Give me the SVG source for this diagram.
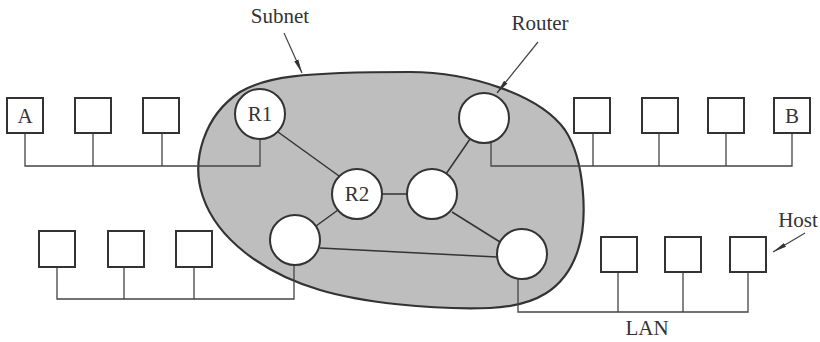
<svg xmlns="http://www.w3.org/2000/svg" width="820" height="342" viewBox="0 0 820 342">
<defs>
<marker id="ah" viewBox="0 0 14 6" refX="14" refY="3" markerWidth="14" markerHeight="6" markerUnits="userSpaceOnUse" orient="auto">
<path d="M0,0.8 L14,3 L0,5.2 Z" fill="#333"/>
</marker>
<style>
.t{font-family:"Liberation Serif","Times New Roman",serif;font-size:21px;fill:#333}
.host{fill:#fff;stroke:#333;stroke-width:2}
.rt{fill:#fff;stroke:#333;stroke-width:2}
.ln{fill:none;stroke:#444;stroke-width:1.3}
.lk{fill:none;stroke:#333;stroke-width:1.5}
.call{fill:none;stroke:#444;stroke-width:1.2}
</style>
</defs>
<rect width="820" height="342" fill="#fff"/>
<g id="subnet">
<path d="M410,72 C470,72 540,95 565,130 C585,160 588,220 578,250 C565,290 535,306 490,308 C430,310 360,302 320,290 C262,273 217,238 203,197 C190,160 205,115 240,92 C265,77 300,72 410,72 Z" fill="#bebebe" stroke="#333" stroke-width="2.2"/>
</g>
<g id="connectors">
<path class="ln" d="M25,133 V166 H260 V139"/>
<path class="ln" d="M93,133 V166 M162,133 V166"/>
<path class="ln" d="M491,142 V166 H792 V133"/>
<path class="ln" d="M593,133 V166 M659,133 V166 M726,133 V166"/>
<path class="ln" d="M57,267 V299 H294 V265"/>
<path class="ln" d="M124,267 V299 M194,267 V299"/>
<path class="ln" d="M518,279 V312 H748 V272"/>
<path class="ln" d="M618,272 V312 M683,272 V312"/>
<line class="lk" x1="278" y1="132" x2="339" y2="176"/>
<line class="lk" x1="382" y1="194" x2="407" y2="194"/>
<line class="lk" x1="470" y1="139" x2="446" y2="174"/>
<line class="lk" x1="338" y1="210" x2="316" y2="226" stroke-width="2.2"/>
<line class="lk" x1="320" y1="248" x2="497" y2="257"/>
<line class="lk" x1="452" y1="212" x2="500" y2="242"/>
<line class="call" x1="284" y1="33" x2="302" y2="73" marker-end="url(#ah)"/>
<line class="call" x1="538" y1="42" x2="497" y2="93" marker-end="url(#ah)"/>
<line class="call" x1="805" y1="233" x2="773" y2="252" marker-end="url(#ah)"/>
</g>
<g id="R1"><circle class="rt" cx="260" cy="114" r="25"/><text class="t" x="260" y="121" text-anchor="middle">R1</text></g>
<g id="R2"><circle class="rt" cx="357" cy="194" r="25"/><text class="t" x="357" y="201" text-anchor="middle">R2</text></g>
<g id="router-tr"><circle class="rt" cx="484" cy="118" r="25"/></g>
<g id="router-c"><circle class="rt" cx="432" cy="194" r="25"/></g>
<g id="router-bl"><circle class="rt" cx="295" cy="240" r="25"/></g>
<g id="router-br"><circle class="rt" cx="522" cy="254" r="25"/></g>
<g id="hostA"><rect class="host" x="7" y="98" width="36" height="35"/><text class="t" x="25" y="123" text-anchor="middle">A</text></g>
<g id="host-tl2"><rect class="host" x="75" y="98" width="36" height="35"/></g>
<g id="host-tl3"><rect class="host" x="143" y="98" width="36" height="35"/></g>
<g id="host-tr1"><rect class="host" x="574" y="98" width="36" height="35"/></g>
<g id="host-tr2"><rect class="host" x="642" y="98" width="36" height="35"/></g>
<g id="host-tr3"><rect class="host" x="708" y="98" width="36" height="35"/></g>
<g id="hostB"><rect class="host" x="774" y="98" width="36" height="35"/><text class="t" x="792" y="123" text-anchor="middle">B</text></g>
<g id="host-bl1"><rect class="host" x="39" y="231" width="36" height="36"/></g>
<g id="host-bl2"><rect class="host" x="108" y="231" width="36" height="36"/></g>
<g id="host-bl3"><rect class="host" x="176" y="231" width="36" height="36"/></g>
<g id="host-br1"><rect class="host" x="601" y="237" width="36" height="35"/></g>
<g id="host-br2"><rect class="host" x="665" y="237" width="36" height="35"/></g>
<g id="host-br3"><rect class="host" x="730" y="237" width="36" height="35"/></g>
<g id="labels">
<text class="t" x="280" y="23" text-anchor="middle">Subnet</text>
<text class="t" x="540" y="30" text-anchor="middle">Router</text>
<text class="t" x="798" y="227" text-anchor="middle">Host</text>
<text class="t" x="647" y="335" text-anchor="middle">LAN</text>
</g>
</svg>
